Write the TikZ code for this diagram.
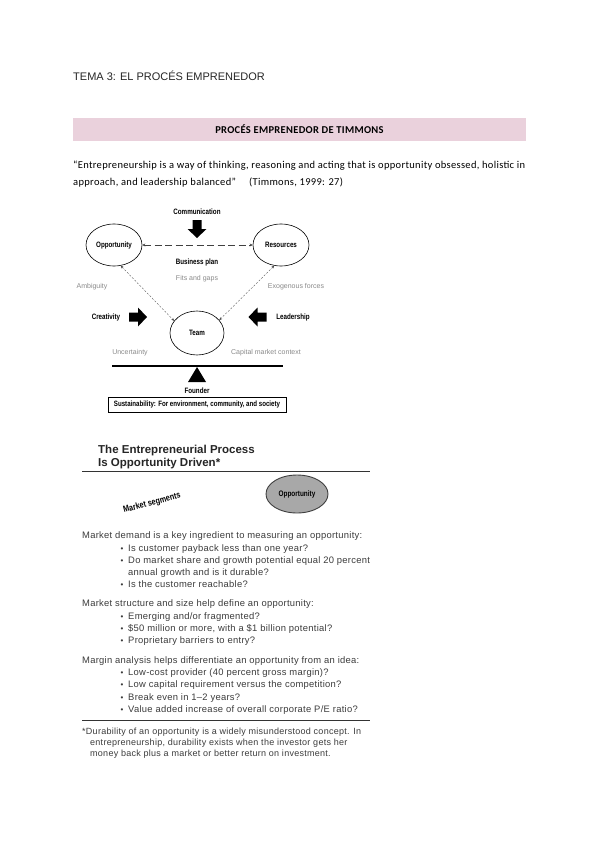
\documentclass[tikz,border=0pt]{standalone}
\usepackage{fontspec}
\setmainfont{Liberation Sans}
\newfontfamily\calibri[LetterSpace=3]{Carlito}
\newfontfamily\narrowsf[FakeStretch=0.8]{Liberation Sans}
\newfontfamily\widesf[LetterSpace=3]{Liberation Sans}
\usetikzlibrary{arrows.meta,shapes.geometric,positioning}

\definecolor{tmPink}{HTML}{EAD1DC}
\definecolor{tmSoft}{HTML}{8A8A8A}
\definecolor{tmInk}{HTML}{3C3C3C}
\definecolor{tmOpp}{HTML}{A8A8A8}

\tikzset{
  every node/.style={inner sep=0pt},
  heading/.style={anchor=base west, font=\fontsize{11}{13}\selectfont, text=black!85},
  banner/.style={fill=tmPink, minimum width=453, minimum height=23,
    font=\calibri\bfseries\fontsize{10.5}{12}\selectfont},
  quote/.style={anchor=base west, font=\calibri\fontsize{10.5}{12}\selectfont},
  lbl/.style={font=\narrowsf\bfseries\fontsize{7.8}{9}\selectfont},
  softlbl/.style={font=\fontsize{7}{8}\selectfont, text=tmSoft},
  bubble/.style={draw, ellipse, line width=0.6pt, minimum width=56, minimum height=42, lbl},
  dashlink/.style={{Stealth[length=3pt,width=3pt]}-{Stealth[length=3pt,width=3pt]},
    dash pattern=on 7pt off 3.5pt, line width=0.5pt, black!75},
  dotlink/.style={{Stealth[length=3pt,width=2.5pt]}-{Stealth[length=3pt,width=2.5pt]},
    dash pattern=on 2pt off 1.6pt, line width=0.35pt, black!70},
  beam/.style={line width=1.2pt},
  sustbox/.style={draw, line width=0.6pt, minimum width=178, minimum height=15,
    font=\narrowsf\bfseries\fontsize{7.7}{9}\selectfont},
  booktitle/.style={anchor=base west, font=\bfseries\fontsize{11.5}{13}\selectfont, text=black!85},
  oppbubble/.style={draw=black!75, fill=tmOpp, ellipse, line width=0.9pt,
    minimum width=62, minimum height=38, font=\narrowsf\bfseries\fontsize{8}{9}\selectfont},
  bodytext/.style={anchor=base west, font=\widesf\fontsize{9.4}{11}\selectfont, text=tmInk},
  bulletdot/.style={anchor=base, font=\fontsize{8}{10}\selectfont, text=tmInk},
  footnote/.style={anchor=base west, font=\widesf\fontsize{9}{10}\selectfont, text=tmInk},
  pics/fatarrow/.style={code={
    \fill (-9,-4.5) -- (0,-4.5) -- (0,-9.5) -- (9,0) -- (0,9.5) -- (0,4.5) -- (-9,4.5) -- cycle;}}
}

\begin{document}
\begin{tikzpicture}[x=1pt,y=-1pt]
  \useasboundingbox (0,0) rectangle (600,848);
  \fill[white] (0,0) rectangle (600,848);

  % page heading and quote
  \node[heading] (tema) at (73,81) {TEMA 3: EL PROCÉS EMPRENEDOR};
  \node[banner] (banner) at (299.5,129.5) {PROCÉS EMPRENEDOR DE TIMMONS};
  \node[quote] (quote1) at (73,168) {“Entrepreneurship is a way of thinking, reasoning and acting that is opportunity obsessed, holistic in};
  \node[quote] (quote2) at (73,185) {approach, and leadership balanced”\quad\ (Timmons, 1999: 27)};

  % Timmons model
  \node[lbl] (comm) at (197,212) {Communication};
  \pic[rotate=-90] at (197,229) {fatarrow};
  \node[bubble] (opp) at (114,245) {Opportunity};
  \node[bubble] (res) at (281,245) {Resources};
  \node[bubble, minimum width=54, minimum height=44] (team) at (197,333) {Team};
  \node[lbl] (bplan) at (197,262) {Business plan};
  \node[softlbl] (fits) at (197,279) {Fits and gaps};
  \node[softlbl] (ambig) at (92,287) {Ambiguity};
  \node[softlbl] (exog) at (296,287) {Exogenous forces};
  \node[lbl] (creat) at (106,317) {Creativity};
  \node[lbl] (lead) at (293,317) {Leadership};
  \pic at (138,317) {fatarrow};
  \pic[rotate=180] at (257.5,317) {fatarrow};
  \node[softlbl] (uncert) at (130,353) {Uncertainty};
  \node[softlbl] (capital) at (266,353) {Capital market context};

  \draw[dashlink] (opp) -- (res);
  \draw[dotlink] (opp.-72) -- (team.152);
  \draw[dotlink] (res.-108) -- (team.30);

  \draw[beam] (112,366) -- (283,366);
  \fill (197,367) -- (188,382) -- (206,382) -- cycle;
  \node[lbl] (founder) at (197,391) {Founder};
  \node[sustbox] (sust) at (197,404.5) {Sustainability: For environment, community, and society};

  % opportunity driven box
  \node[booktitle] (title1) at (98,453) {The Entrepreneurial Process};
  \node[booktitle] (title2) at (98,466) {Is Opportunity Driven*};
  \draw[line width=0.8pt, black!80] (82,471) -- (370,471);
  \node[lbl, rotate=15, font=\narrowsf\bfseries\fontsize{9}{10}\selectfont] (segs) at (152,503) {Market segments};
  \node[oppbubble] (opp2) at (297,494) {Opportunity};

  \node[bodytext] (demand) at (82,538) {Market demand is a key ingredient to measuring an opportunity:};
  \foreach \y/\t in {551/{Is customer payback less than one year?},
      563/{Do market share and growth potential equal 20 percent},
      587/{Is the customer reachable?}} {
    \node[bulletdot] (d\y) at (122,\y) {\textbullet};
    \node[bodytext] (dt\y) at (128,\y) {\t};
  }
  \node[bodytext] (dt575) at (128,575) {annual growth and is it durable?};

  \node[bodytext] (struct) at (82,606) {Market structure and size help define an opportunity:};
  \foreach \y/\t in {619/{Emerging and/or fragmented?},
      631/{\$50 million or more, with a \$1 billion potential?},
      643/{Proprietary barriers to entry?}} {
    \node[bulletdot] (s\y) at (122,\y) {\textbullet};
    \node[bodytext] (st\y) at (128,\y) {\t};
  }

  \node[bodytext] (margin) at (82,663) {Margin analysis helps differentiate an opportunity from an idea:};
  \foreach \y/\t in {675/{Low-cost provider (40 percent gross margin)?},
      687/{Low capital requirement versus the competition?},
      700/{Break even in 1–2 years?},
      712/{Value added increase of overall corporate P/E ratio?}} {
    \node[bulletdot] (m\y) at (122,\y) {\textbullet};
    \node[bodytext] (mt\y) at (128,\y) {\t};
  }
  \draw[line width=0.8pt, black!80] (82,720) -- (370,720);

  \node[footnote] (note1) at (82,734) {*Durability of an opportunity is a widely misunderstood concept. In};
  \node[footnote] (note2) at (90,745) {entrepreneurship, durability exists when the investor gets her};
  \node[footnote] (note3) at (90,756) {money back plus a market or better return on investment.};
\end{tikzpicture}
\end{document}
